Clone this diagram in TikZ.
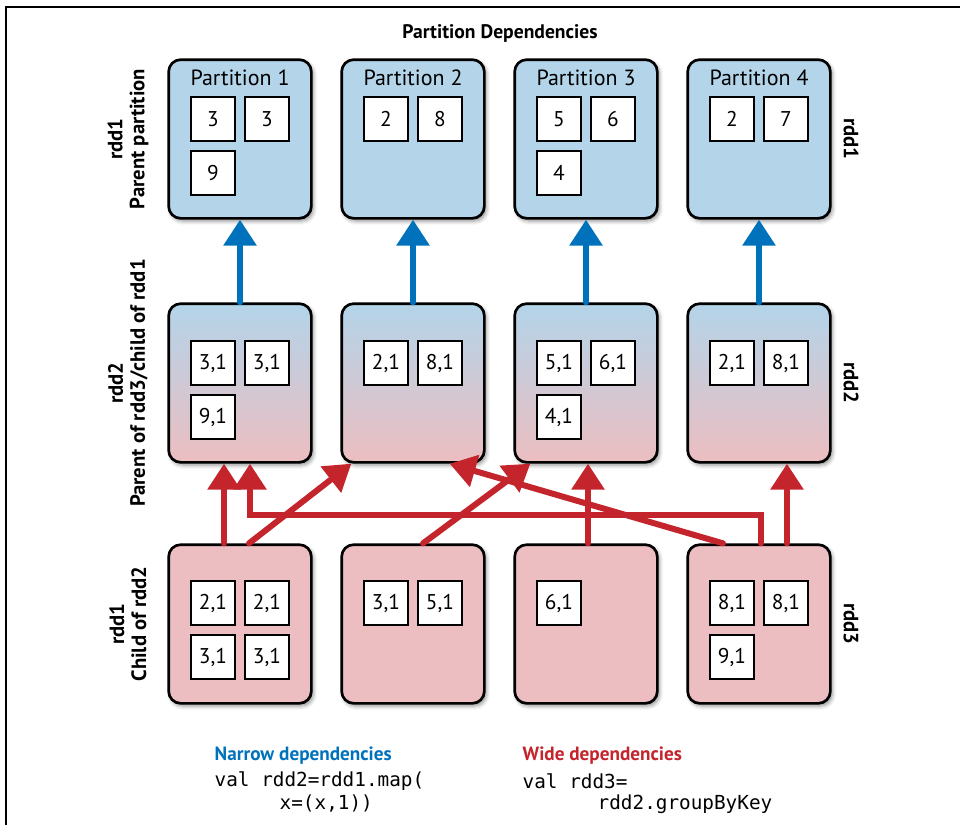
\documentclass[tikz,border=0pt]{standalone}
\usepackage{fontspec}
\setmainfont{PT Sans}
\setmonofont{DejaVu Sans Mono}
\usepackage{xcolor}
\usetikzlibrary{arrows.meta,shadows.blur}
\definecolor{parent}{RGB}{179,212,233}
\definecolor{child}{RGB}{236,190,193}
\definecolor{narrow}{RGB}{0,114,188}
\definecolor{wide}{RGB}{196,37,45}
\tikzstyle{part}=[draw,line width=2pt,rounded corners=9pt,minimum width=107pt,minimum height=119pt,
  blur shadow={shadow xshift=1.5pt,shadow yshift=-2pt,shadow opacity=45,shadow blur radius=3pt}]
\tikzstyle{rec}=[draw,fill=white,line width=1.6pt,minimum size=33pt,inner sep=0pt,font=\fontsize{16}{18}\selectfont]
\tikzstyle{side}=[font=\bfseries\fontsize{15.5}{16.5}\selectfont,align=center]
\tikzstyle{narrowdep}=[-{Triangle[length=19.5pt,width=24pt]},line width=4.5pt,line cap=round,color=narrow]
\tikzstyle{widedep}=[-{Triangle[length=19.5pt,width=24pt]},line width=4.5pt,line cap=round,color=wide]

\begin{document}
\begin{tikzpicture}[x=0.75pt,y=-0.75pt]
  \useasboundingbox (0,0) rectangle (960,825);
  \draw[line width=1.1pt] (6,825) -- (6,7) -- (960,7);
  \draw (500,33) node[font=\bfseries\fontsize{14.7}{16}\selectfont] (title) {Partition Dependencies};

  %% rdd1 parent partitions
  \draw (240,139) node[part,fill=parent] (P11) {};
  \draw (413,139) node[part,fill=parent] (P12) {};
  \draw (586,139) node[part,fill=parent] (P13) {};
  \draw (759,139) node[part,fill=parent] (P14) {};
  \draw (240,78) node[font=\fontsize{16.5}{18}\selectfont] (L1) {Partition 1};
  \draw (413,78) node[font=\fontsize{16.5}{18}\selectfont] (L2) {Partition 2};
  \draw (586,78) node[font=\fontsize{16.5}{18}\selectfont] (L3) {Partition 3};
  \draw (759,78) node[font=\fontsize{16.5}{18}\selectfont] (L4) {Partition 4};

  %% rdd2
  \draw (240,383) node[part,top color=parent,bottom color=child] (P21) {};
  \draw (413,383) node[part,top color=parent,bottom color=child] (P22) {};
  \draw (586,383) node[part,top color=parent,bottom color=child] (P23) {};
  \draw (759,383) node[part,top color=parent,bottom color=child] (P24) {};

  %% rdd1 child of rdd2
  \draw (240,624) node[part,fill=child] (P31) {};
  \draw (413,624) node[part,fill=child] (P32) {};
  \draw (586,624) node[part,fill=child] (P33) {};
  \draw (759,624) node[part,fill=child] (P34) {};

  %% Values
  \draw (213,119) node[rec] (V111) {3};
  \draw (267,119) node[rec] (V112) {3};
  \draw (213,173) node[rec] (V113) {9};
  \draw (386,119) node[rec] (V121) {2};
  \draw (440,119) node[rec] (V122) {8};
  \draw (559,119) node[rec] (V131) {5};
  \draw (613,119) node[rec] (V132) {6};
  \draw (559,173) node[rec] (V133) {4};
  \draw (732,119) node[rec] (V141) {2};
  \draw (786,119) node[rec] (V142) {7};

  \draw (213,363) node[rec] (V211) {3,1};
  \draw (267,363) node[rec] (V212) {3,1};
  \draw (213,417) node[rec] (V213) {9,1};
  \draw (386,363) node[rec] (V221) {2,1};
  \draw (440,363) node[rec] (V222) {8,1};
  \draw (559,363) node[rec] (V231) {5,1};
  \draw (613,363) node[rec] (V232) {6,1};
  \draw (559,417) node[rec] (V233) {4,1};
  \draw (732,363) node[rec] (V241) {2,1};
  \draw (786,363) node[rec] (V242) {8,1};

  \draw (213,603) node[rec] (V311) {2,1};
  \draw (267,603) node[rec] (V312) {2,1};
  \draw (213,657) node[rec] (V313) {3,1};
  \draw (267,657) node[rec] (V314) {3,1};
  \draw (386,603) node[rec] (V321) {3,1};
  \draw (440,603) node[rec] (V322) {5,1};
  \draw (559,603) node[rec] (V331) {6,1};
  \draw (732,603) node[rec] (V341) {8,1};
  \draw (786,603) node[rec] (V342) {8,1};
  \draw (732,657) node[rec] (V343) {9,1};

  %% Narrow dependencies
  \draw[narrowdep] (P21) -- (P11);
  \draw[narrowdep] (P22) -- (P12);
  \draw[narrowdep] (P23) -- (P13);
  \draw[narrowdep] (P24) -- (P14);

  %% Wide dependencies
  \coordinate (bend) at (250,515);
  \draw[widedep] ([xshift=-12pt]P31.north) -- ([xshift=-12pt]P21.south);
  \draw[widedep] ([xshift=1.5pt]P34.north) |- (bend) -- ([xshift=7.5pt]P21.south);
  \draw[widedep] ([xshift=-27pt]P34.north) -- ([xshift=-27pt]P22.south east);
  \draw[widedep] ([xshift=6.75pt]P31.north) -- ([xshift=8.25pt]P22.south west);
  \draw[widedep] ([xshift=7.5pt]P32.north) -- ([xshift=12.75pt]P23.south west);
  \draw[widedep] ([xshift=1.5pt]P33.north) -- ([xshift=1.5pt]P23.south);
  \draw[widedep] ([xshift=21pt]P34.north) -- ([xshift=21pt]P24.south);

  %% Side labels
  \draw (128,139) node[side,rotate=90] (S1) {rdd1\\Parent partition};
  \draw (128,383) node[side,rotate=90] (S2) {rdd2\\Parent of rdd3/child of rdd1};
  \draw (128,624) node[side,rotate=90] (S3) {rdd1\\Child of rdd2};
  \draw (851,139) node[side,rotate=-90] (R1) {rdd1};
  \draw (851,383) node[side,rotate=-90] (R2) {rdd2};
  \draw (851,624) node[side,rotate=-90] (R3) {rdd3};

  %% Legend things
  \draw (210,756) node[anchor=west,text=narrow,font=\bfseries\fontsize{14.4}{16}\selectfont] (N1) {Narrow dependencies};
  \draw (210,781) node[anchor=west,font=\ttfamily\fontsize{14.5}{17}\selectfont] (N2) {val rdd2=rdd1.map(};
  \draw (275,804) node[anchor=west,font=\ttfamily\fontsize{14.5}{17}\selectfont] (N3) {x=(x,1))};
  \draw (518,756) node[anchor=west,text=wide,font=\bfseries\fontsize{14.4}{16}\selectfont] (W1) {Wide dependencies};
  \draw (518,781) node[anchor=west,font=\ttfamily\fontsize{14.5}{17}\selectfont] (W2) {val rdd3=};
  \draw (593,804) node[anchor=west,font=\ttfamily\fontsize{14.5}{17}\selectfont] (W3) {rdd2.groupByKey};
\end{tikzpicture}
\end{document}
